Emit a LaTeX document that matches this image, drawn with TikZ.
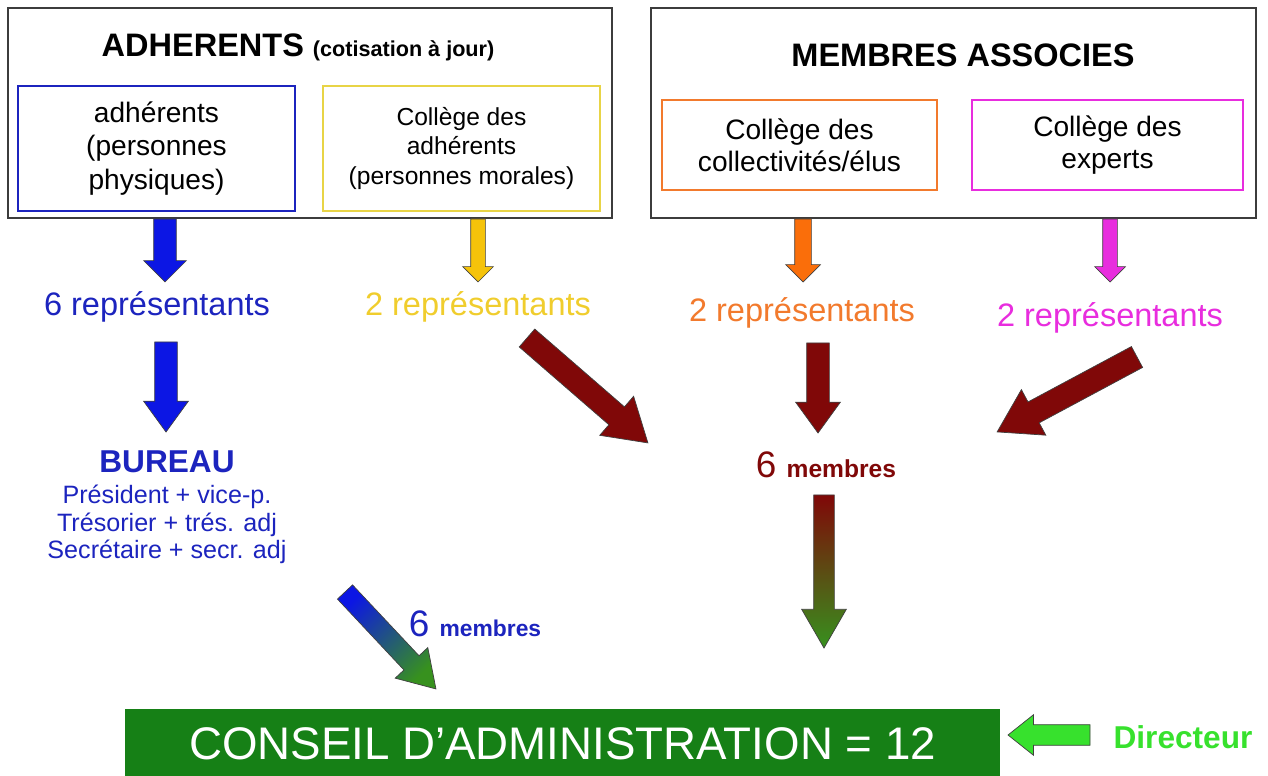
\documentclass[tikz,border=0pt]{standalone}
\usepackage{fontspec}
\setmainfont{Liberation Sans}
\usetikzlibrary{shapes.arrows,calc,positioning}

\definecolor{adhblue}{RGB}{28,36,190}
\definecolor{arrblue}{RGB}{12,22,228}
\definecolor{boxyellow}{RGB}{232,212,70}
\definecolor{txtyellow}{RGB}{240,205,45}
\definecolor{arryellow}{RGB}{245,195,10}
\definecolor{colorange}{RGB}{242,122,45}
\definecolor{arrorange}{RGB}{250,110,10}
\definecolor{colmagenta}{RGB}{232,45,222}
\definecolor{darkred}{RGB}{128,8,8}
\definecolor{cagreen}{RGB}{22,128,22}
\definecolor{midgreen}{RGB}{55,145,30}
\definecolor{dirgreen}{RGB}{55,225,45}
\definecolor{framegray}{RGB}{60,60,60}

\tikzset{
  groupbox/.style={draw=framegray, line width=1.2pt, minimum width=12.08cm, minimum height=4.2cm},
  collbox/.style={draw=#1, line width=1.1pt, align=center, inner sep=0pt},
  fat/.style={single arrow, draw=black!75, line width=0.4pt, inner xsep=0pt, outer sep=0pt},
  rep/.style={font=\fontsize{18.5}{22}\selectfont},
}

% block arrow between two named points
\newcommand{\fatarrow}[4]{%
  \path let \p1=(#3), \p2=(#4), \n1={atan2(\y2-\y1,\x2-\x1)}, \n2={veclen(\x2-\x1,\y2-\y1)} in
    node[fat, #2, rotate=\n1, minimum height=\n2, anchor=tail] (#1) at (\p1) {};}

\begin{document}
\begin{tikzpicture}[x=0.02cm, y=-0.02cm]
\useasboundingbox (0,0) rectangle (1268,776);

% the two groups
\node[groupbox] (adh) at (310,113) {};
\node[groupbox, minimum width=12.1cm] (assoc) at (953.5,113) {};
\node[font=\fontsize{18.5}{22}\selectfont\bfseries] (adhtitle) at (298,47) {ADHERENTS {\fontsize{12.3}{14}\selectfont (cotisation à jour)}};
\node[font=\fontsize{18.5}{22}\selectfont\bfseries] (assoctitle) at (963,55) {MEMBRES ASSOCIES};

\node[collbox=adhblue, minimum width=5.54cm, minimum height=2.5cm, font=\fontsize{16}{19.3}\selectfont] (phys) at (156.5,148.5) {adhérents\\(personnes\\physiques)};
\node[collbox=boxyellow, minimum width=5.54cm, minimum height=2.5cm, font=\fontsize{14}{16.8}\selectfont] (mor) at (461.5,148.5) {Collège des\\adhérents\\(personnes morales)};
\node[collbox=colorange, minimum width=5.5cm, minimum height=1.8cm, font=\fontsize{16}{18}\selectfont] (elus) at (799.5,145) {Collège des\\collectivités/élus};
\node[collbox=colmagenta, minimum width=5.42cm, minimum height=1.8cm, font=\fontsize{16}{18}\selectfont] (exp) at (1107.5,145) {Collège des\\experts};

% representants
\node[rep, text=adhblue] (rep6) at (157,307) {6 représentants};
\node[rep, text=txtyellow] (rep2y) at (478,307) {2 représentants};
\node[rep, text=colorange] (rep2o) at (802,313) {2 représentants};
\node[rep, text=colmagenta] (rep2m) at (1110,318) {2 représentants};

\node[font=\fontsize{18}{22}\selectfont\bfseries, text=adhblue] (bureau) at (167,462) {BUREAU};
\node[font=\fontsize{14.3}{15.6}\selectfont, text=adhblue, align=center, below=0pt of bureau] (bureaulist) {Président + vice-p.\\Trésorier + trés. adj\\Secrétaire + secr. adj};

\node[text=darkred] (memr) at (826,465) {\fontsize{21}{24}\selectfont 6 \fontsize{14}{16}\selectfont\bfseries membres};
\node[text=adhblue] (memb) at (475,624) {\fontsize{21}{24}\selectfont 6 \fontsize{13}{16}\selectfont\bfseries membres};

\node[fill=cagreen, minimum width=17.5cm, minimum height=1.4cm, text=white, font=\fontsize{26}{30}\selectfont] (ca) at (562.5,744) {CONSEIL D’ADMINISTRATION = 12};
\node[text=dirgreen, font=\fontsize{18}{22}\selectfont\bfseries] (dir) at (1183,737) {Directeur};

% arrow end points
\coordinate (a1s) at (165,219); \coordinate (a1e) at (165,282);
\coordinate (a2s) at (478,219); \coordinate (a2e) at (478,282);
\coordinate (a3s) at (803,219); \coordinate (a3e) at (803,282);
\coordinate (a4s) at (1110,219); \coordinate (a4e) at (1110,282);
\coordinate (a5s) at (166,342); \coordinate (a5e) at (166,432);
\coordinate (a6s) at (527,338); \coordinate (a6e) at (648,443);
\coordinate (a7s) at (818,343); \coordinate (a7e) at (818,433);
\coordinate (a8s) at (1137,357); \coordinate (a8e) at (997,432);
\coordinate (a9s) at (824,495); \coordinate (a9e) at (824,648);
\coordinate (a10s) at (345,592); \coordinate (a10e) at (436,689);
\coordinate (a11s) at (1090,735); \coordinate (a11e) at (1008,735);

\fatarrow{arrphys}{fill=arrblue, inner ysep=0.22cm, single arrow head extend=0.2cm}{a1s}{a1e}
\fatarrow{arrmor}{fill=arryellow, inner ysep=0.14cm, single arrow head extend=0.16cm}{a2s}{a2e}
\fatarrow{arrelus}{fill=arrorange, inner ysep=0.16cm, single arrow head extend=0.18cm}{a3s}{a3e}
\fatarrow{arrexp}{fill=colmagenta, inner ysep=0.14cm, single arrow head extend=0.16cm}{a4s}{a4e}
\fatarrow{arrbur}{fill=arrblue, inner ysep=0.22cm, single arrow head extend=0.22cm, single arrow tip angle=72}{a5s}{a5e}
\fatarrow{arrmor2}{fill=darkred, inner ysep=0.23cm, single arrow head extend=0.28cm, single arrow tip angle=64}{a6s}{a6e}
\fatarrow{arrelus2}{fill=darkred, inner ysep=0.22cm, single arrow head extend=0.22cm, single arrow tip angle=72}{a7s}{a7e}
\fatarrow{arrexp2}{fill=darkred, inner ysep=0.23cm, single arrow head extend=0.28cm, single arrow tip angle=64}{a8s}{a8e}
\fatarrow{arrassoc}{top color=darkred, bottom color=midgreen, inner ysep=0.2cm, single arrow head extend=0.24cm, single arrow tip angle=60}{a9s}{a9e}
\fatarrow{arrbur2}{top color=arrblue, bottom color=midgreen, shading angle=45, inner ysep=0.2cm, single arrow head extend=0.24cm, single arrow tip angle=64}{a10s}{a10e}
\fatarrow{arrdir}{fill=dirgreen, inner ysep=0.2cm, single arrow head extend=0.2cm, single arrow tip angle=77}{a11s}{a11e}
\end{tikzpicture}
\end{document}
